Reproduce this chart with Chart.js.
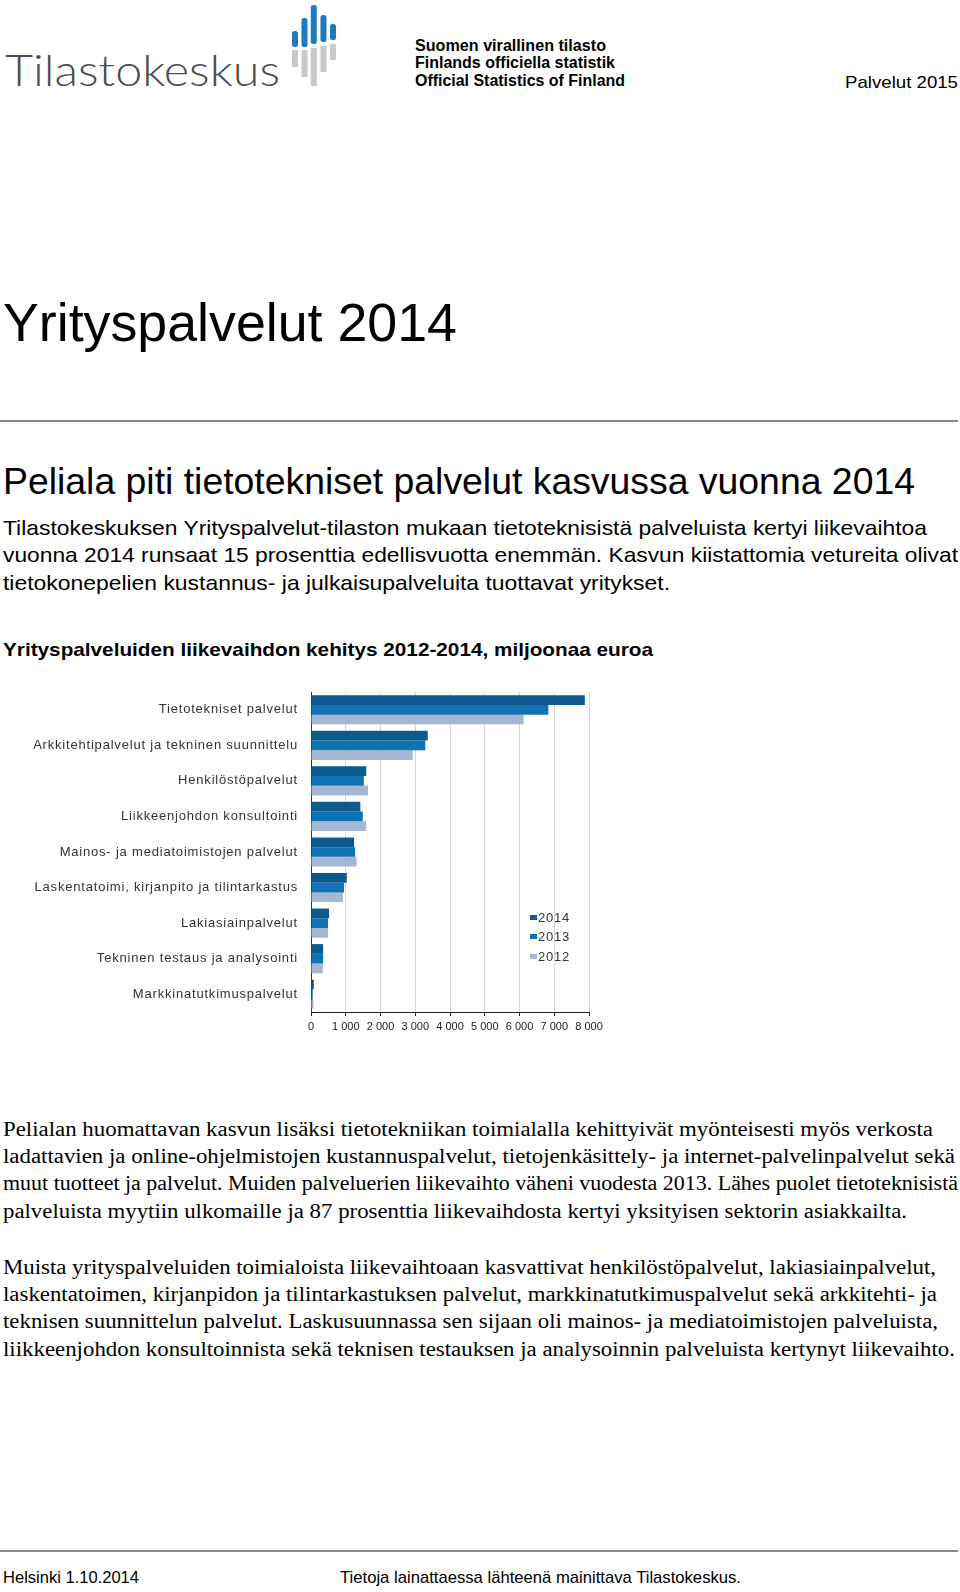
<!DOCTYPE html>
<html>
<head>
<meta charset="utf-8">
<script src="https://cdn.jsdelivr.net/npm/chart.js@4"></script>
<style>
  html, body { margin: 0; padding: 0; background: #fff; }
  body { width: 960px; height: 1592px; position: relative; overflow: hidden; font-family: "Liberation Sans", Arial, sans-serif; color: #000; }
  .ln { position: absolute; white-space: nowrap; line-height: 1.2; transform-origin: 0 50%; }
  .serif { font-family: "Liberation Serif", "Times New Roman", serif; }
  .rule { position: absolute; left: 0; width: 958px; height: 2px; background: #8c8c8c; }
  #chartBox { position: absolute; left: 0; top: 670px; width: 620px; height: 372px; }
  .lg { position: absolute; left: 530px; font-size: 13px; letter-spacing: 0.8px; color: #333; line-height: 14px; white-space: nowrap; }
  .lg i { display: inline-block; width: 7px; height: 5px; margin-right: 1px; vertical-align: 2px; }
</style>
</head>
<body>

<svg style="position:absolute;left:285px;top:0" width="60" height="95" viewBox="285 0 60 95">
  <g fill="#1b7cc0">
    <rect x="292" y="31" width="6" height="16" rx="2.5"/>
    <rect x="301.5" y="18" width="6" height="29" rx="2.5"/>
    <rect x="310.8" y="5" width="6" height="39" rx="2.5"/>
    <rect x="320.5" y="15" width="6" height="27" rx="2.5"/>
    <rect x="330" y="24" width="6" height="16" rx="2.5"/>
  </g>
  <g fill="#c9c9c9">
    <rect x="292" y="50" width="6" height="17"/>
    <rect x="301.5" y="50" width="6" height="27"/>
    <rect x="310.8" y="48" width="6" height="38"/>
    <rect x="320.5" y="46" width="6" height="26"/>
    <rect x="330" y="44" width="6" height="16"/>
  </g>
</svg>

<div id="chartBox"><canvas id="chart"></canvas></div>
<div class="lg" style="top:911px"><i style="background:#0d5a8e"></i>2014</div>
<div class="lg" style="top:930px"><i style="background:#0f72b3"></i>2013</div>
<div class="lg" style="top:950px"><i style="background:#a4b8d3"></i>2012</div>

<div class="rule" style="top:420px"></div>
<div class="rule" style="top:1550px"></div>

<script>
const categories = [
  "Tietotekniset palvelut",
  "Arkkitehtipalvelut ja tekninen suunnittelu",
  "Henkilöstöpalvelut",
  "Liikkeenjohdon konsultointi",
  "Mainos- ja mediatoimistojen palvelut",
  "Laskentatoimi, kirjanpito ja tilintarkastus",
  "Lakiasiainpalvelut",
  "Tekninen testaus ja analysointi",
  "Markkinatutkimuspalvelut",
];
const years = ["2014", "2013", "2012"];
const values2014 = [7880, 3360, 1590, 1420, 1240, 1030, 520, 350, 80];
const values2013 = [6830, 3290, 1520, 1490, 1270, 950, 490, 350, 50];
const values2012 = [6120, 2930, 1640, 1590, 1310, 920, 490, 340, 70];
const xTicks = [0, 1000, 2000, 3000, 4000, 5000, 6000, 7000, 8000];

const COLORS = ["#0d5a8e", "#0f72b3", "#a4b8d3"];

// page text: [text, left, centerY, fontSize, targetWidth, extra class/style]
const lines = [
  ["Tilastokeskus", 5, 69, 44, 275, "font-family:Lato,'Open Sans',sans-serif;font-weight:300;color:#4d4d4d"],
  ["Suomen virallinen tilasto", 415, 46, 16, 191, "font-weight:bold"],
  ["Finlands officiella statistik", 415, 63, 16, 200, "font-weight:bold"],
  ["Official Statistics of Finland", 415, 81, 16, 210, "font-weight:bold"],
  ["Palvelut 2015", 845, 83, 17, 113, ""],
  ["Yrityspalvelut 2014", 3, 322, 54, 454, ""],
  ["Peliala piti tietotekniset palvelut kasvussa vuonna 2014", 3, 482, 37, 912, ""],
  ["Tilastokeskuksen Yrityspalvelut-tilaston mukaan tietoteknisistä palveluista kertyi liikevaihtoa", 3, 528, 21, 924, ""],
  ["vuonna 2014 runsaat 15 prosenttia edellisvuotta enemmän. Kasvun kiistattomia vetureita olivat", 3, 555, 21, 955, ""],
  ["tietokonepelien kustannus- ja julkaisupalveluita tuottavat yritykset.", 3, 582.5, 21, 667, ""],
  ["Yrityspalveluiden liikevaihdon kehitys 2012-2014, miljoonaa euroa", 3, 650.5, 19, 650, "font-weight:bold"],
  ["Pelialan huomattavan kasvun lisäksi tietotekniikan toimialalla kehittyivät myönteisesti myös verkosta", 3, 1128.5, 20, 930, "serif"],
  ["ladattavien ja online-ohjelmistojen kustannuspalvelut, tietojenkäsittely- ja internet-palvelinpalvelut sekä", 3, 1156, 20, 952, "serif"],
  ["muut tuotteet ja palvelut. Muiden palveluerien liikevaihto väheni vuodesta 2013. Lähes puolet tietoteknisistä", 3, 1183, 20, 955, "serif"],
  ["palveluista myytiin ulkomaille ja 87 prosenttia liikevaihdosta kertyi yksityisen sektorin asiakkailta.", 3, 1210.5, 20, 904, "serif"],
  ["Muista yrityspalveluiden toimialoista liikevaihtoaan kasvattivat henkilöstöpalvelut, lakiasiainpalvelut,", 3, 1266.5, 20, 933, "serif"],
  ["laskentatoimen, kirjanpidon ja tilintarkastuksen palvelut, markkinatutkimuspalvelut sekä arkkitehti- ja", 3, 1294, 20, 934, "serif"],
  ["teknisen suunnittelun palvelut. Laskusuunnassa sen sijaan oli mainos- ja mediatoimistojen palveluista,", 3, 1321, 20, 935, "serif"],
  ["liikkeenjohdon konsultoinnista sekä teknisen testauksen ja analysoinnin palveluista kertynyt liikevaihto.", 3, 1348.5, 20, 952, "serif"],
  ["Helsinki 1.10.2014", 3, 1578, 17, 136, ""],
  ["Tietoja lainattaessa lähteenä mainittava Tilastokeskus.", 340, 1578, 17, 401, ""],
];

const els = lines.map(([text, left, cy, fs, w, extra]) => {
  const d = document.createElement("div");
  d.className = "ln" + (extra === "serif" ? " serif" : "");
  d.textContent = text;
  d.style.cssText += `left:${left}px;top:${cy - fs * 0.6}px;font-size:${fs}px;` + (extra !== "serif" ? extra : "");
  d.dataset.w = w;
  document.body.appendChild(d);
  return d;
});

// squeeze/stretch each line to the width it has in the reference
function fitLines() {
  els.forEach((d) => {
    d.style.transform = "";
    const w = d.getBoundingClientRect().width;
    d.style.transform = `scaleX(${d.dataset.w / w})`;
  });
}
fitLines();

Chart.defaults.font.family = "'Liberation Sans', Arial, sans-serif";

// y labels in the reference are spaced out; draw them (z:1) with letter spacing
const spacedLabels = {
  id: "spacedLabels",
  afterDatasetsDraw(chart) {
    chart.ctx.save();
    chart.ctx.letterSpacing = "0.8px";
  },
  afterDraw(chart) {
    chart.ctx.restore();
  },
};

new Chart(document.getElementById("chart"), {
  type: "bar",
  data: {
    labels: categories,
    datasets: [values2014, values2013, values2012].map((vals, i) => ({
      label: years[i],
      data: vals,
      backgroundColor: COLORS[i],
      borderWidth: 0,
      categoryPercentage: 0.82,
      barPercentage: 1.0,
    })),
  },
  options: {
    indexAxis: "y",
    responsive: true,
    maintainAspectRatio: false,
    animation: false,
    layout: { padding: { top: 22, right: 31, left: 0, bottom: 0 } },
    plugins: {
      legend: { display: false },
      tooltip: { enabled: false },
    },
    scales: {
      x: {
        min: 0,
        max: 8000,
        afterBuildTicks: (s) => { s.ticks = xTicks.map((v) => ({ value: v })); },
        afterFit: (s) => { s.height = 30; },
        grid: { color: "#d6d6d6", tickColor: "#222", tickLength: 4, drawTicks: true },
        border: { display: true, color: "#222", width: 1 },
        ticks: {
          padding: 4,
          color: "#222",
          font: { size: 11 },
          maxRotation: 0,
          autoSkip: false,
          callback: (v) => (v === 0 ? "0" : v / 1000 + " 000"),
        },
      },
      y: {
        afterFit: (s) => { s.width = 311; },
        grid: { display: false, drawTicks: false },
        border: { display: true, color: "#333", width: 1 },
        ticks: { z: 1, padding: 13, color: "#333", font: { size: 13 } },
      },
    },
  },
  plugins: [spacedLabels],
});
</script>
</body>
</html>
